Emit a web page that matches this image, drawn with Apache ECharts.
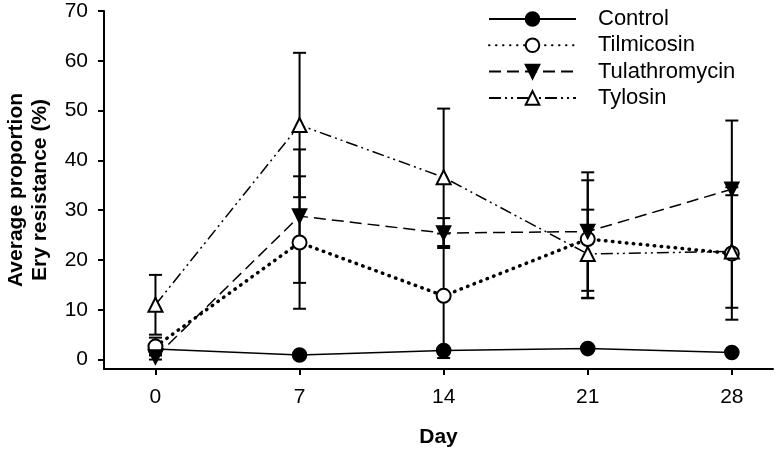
<!DOCTYPE html>
<html>
<head>
<meta charset="utf-8">
<script src="https://cdn.jsdelivr.net/npm/echarts@6/dist/echarts.min.js"></script>
<style>html,body{margin:0;padding:0;background:#fff}#c{width:776px;height:454px}</style>
</head>
<body>
<div id="c"></div>
<script>
var days = [0, 7, 14, 21, 28];
var xTicks = [0, 7, 14, 21, 28];
var yTicks = [0, 10, 20, 30, 40, 50, 60, 70];
var seriesNames = ['Control', 'Tilmicosin', 'Tulathromycin', 'Tylosin'];
var control = [2.1, 0.9, 1.8, 2.2, 1.4];
var controlSE = [0.3, 0.3, 0.6, 0.3, 0.3];
var tilmicosin = [2.6, 23.5, 12.8, 24.2, 21.3];
var tilmicosinSE = [1.8, 13.3, 12.5, 11.8, 13.3];
var tulathromycin = [0.5, 28.8, 25.4, 25.7, 34.2];
var tulathromycinSE = [0.5, 13.4, 3.0, 11.9, 13.8];
var tylosin = [11.0, 47.1, 36.6, 21.2, 21.7];
var tylosinSE = [6.0, 14.5, 13.8, 8.9, 11.3];

var FONT = 'Liberation Sans, Arial, sans-serif';

function pts(vals) { return days.map(function (d, i) { return [d, vals[i]]; }); }
function errData(vals, se) { return days.map(function (d, i) { return [d, vals[i] - se[i], vals[i] + se[i]]; }); }

function errSeries(vals, se) {
  return {
    type: 'custom',
    z: 1,
    silent: true,
    data: errData(vals, se),
    encode: { x: 0, y: [1, 2] },
    renderItem: function (params, api) {
      var x = api.value(0);
      var lo = api.coord([x, api.value(1)]);
      var hi = api.coord([x, api.value(2)]);
      var hw = 6.5;
      var st = { stroke: '#000', lineWidth: 2 };
      return {
        type: 'group',
        children: [
          { type: 'line', shape: { x1: lo[0], y1: lo[1], x2: hi[0], y2: hi[1] }, style: st },
          { type: 'line', shape: { x1: lo[0] - hw, y1: lo[1], x2: lo[0] + hw, y2: lo[1] }, style: st },
          { type: 'line', shape: { x1: hi[0] - hw, y1: hi[1], x2: hi[0] + hw, y2: hi[1] }, style: st }
        ]
      };
    }
  };
}

function lineSeries(name, vals, symbol, rotate, lineStyle) {
  return {
    name: name,
    type: 'line',
    z: 3,
    data: pts(vals),
    symbol: symbol,
    symbolRotate: rotate,
    symbolSize: 14,
    showSymbol: true,
    color: '#000',
    itemStyle: { color: '#000', borderColor: '#000', borderWidth: 1.6 },
    lineStyle: lineStyle,
    emphasis: { disabled: true },
    animation: false
  };
}

var chart = echarts.init(document.getElementById('c'), null, { renderer: 'canvas' });
chart.setOption({
  animation: false,
  backgroundColor: '#fff',
  grid: { left: 104, right: 3, top: 11, bottom: 85, containLabel: false, outerBoundsMode: 'none' },
  legend: {
    data: seriesNames,
    orient: 'vertical',
    left: 488,
    top: 8,
    padding: 0,
    itemWidth: 87,
    itemHeight: 17,
    itemGap: 4.3,
    textStyle: { fontFamily: FONT, fontSize: 22, color: '#000', lineHeight: 22, padding: [0, 0, 0, 17] },
    selectedMode: false
  },
  xAxis: {
    type: 'value',
    min: -2.5,
    max: 30,
    splitLine: { show: false },
    axisLine: { show: true, onZero: false, lineStyle: { color: '#000', width: 2 } },
    axisTick: { show: true, inside: false, length: 6, customValues: xTicks, lineStyle: { color: '#000', width: 2 } },
    axisLabel: { customValues: xTicks, margin: 18, fontFamily: FONT, fontSize: 21, color: '#000' },
    name: 'Day',
    nameLocation: 'middle',
    nameGap: 58,
    nameTextStyle: { fontFamily: FONT, fontSize: 21, fontWeight: 'bold', color: '#000' }
  },
  yAxis: {
    type: 'value',
    min: -1.9,
    max: 70,
    splitLine: { show: false },
    axisLine: { show: true, onZero: false, lineStyle: { color: '#000', width: 2 } },
    axisTick: { show: true, inside: false, length: 6, customValues: yTicks, lineStyle: { color: '#000', width: 2 } },
    axisLabel: { customValues: yTicks, margin: 16, fontFamily: FONT, fontSize: 21, color: '#000' },
    name: 'Average proportion\nEry resistance (%)',
    nameLocation: 'middle',
    nameGap: 52,
    nameRotate: 90,
    nameTextStyle: { fontFamily: FONT, fontSize: 21, fontWeight: 'bold', color: '#000', lineHeight: 24 }
  },
  series: [
    errSeries(control, controlSE),
    errSeries(tilmicosin, tilmicosinSE),
    errSeries(tulathromycin, tulathromycinSE),
    errSeries(tylosin, tylosinSE),
    lineSeries('Control', control, 'circle', 0, { color: '#000', width: 1.5, type: 'solid' }),
    lineSeries('Tilmicosin', tilmicosin, 'emptyCircle', 0, { color: '#000', width: 3.5, type: [0.5, 6.5], cap: 'round' }),
    lineSeries('Tulathromycin', tulathromycin, 'triangle', 180, { color: '#000', width: 1.5, type: [12, 6] }),
    lineSeries('Tylosin', tylosin, 'emptyTriangle', 0, { color: '#000', width: 1.5, type: [12, 4, 2, 4, 2, 4] })
  ]
});
</script>
</body>
</html>
